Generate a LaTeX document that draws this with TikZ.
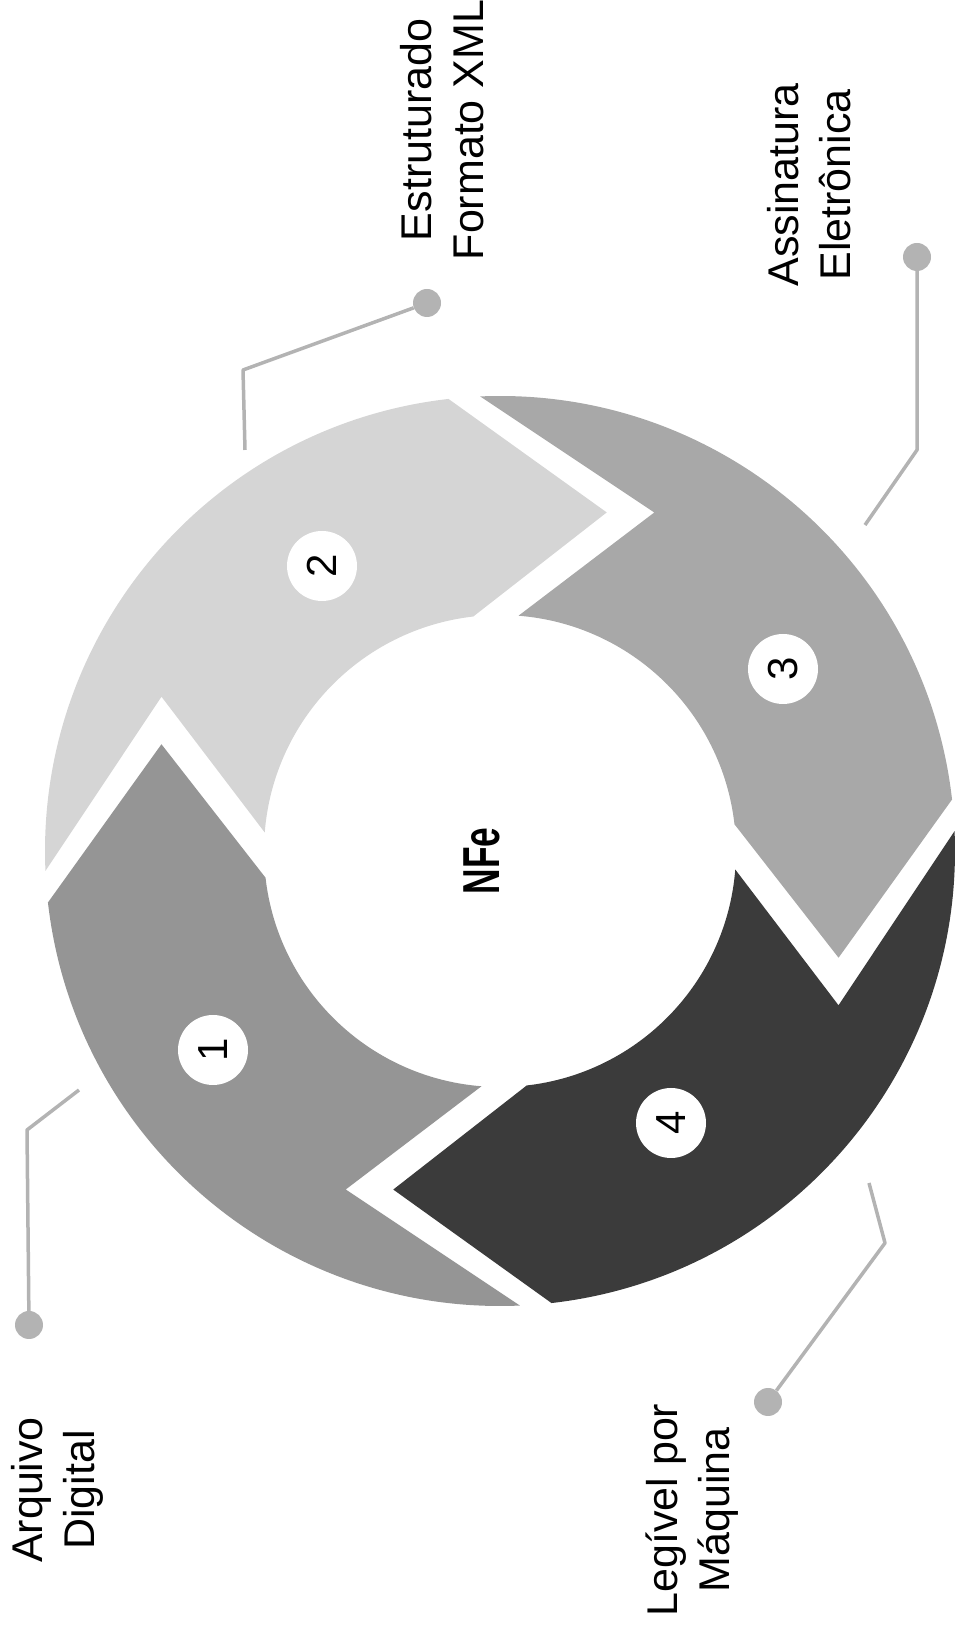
\documentclass[tikz,border=0pt]{standalone}
\usepackage{fontspec}
\setmainfont{Liberation Sans}
\newfontfamily\nfefont[FakeStretch=0.68]{Liberation Sans}
\definecolor{segA}{HTML}{959595}
\definecolor{segB}{HTML}{D5D5D5}
\definecolor{segC}{HTML}{A8A8A8}
\definecolor{segD}{HTML}{3B3B3B}
\definecolor{leadgray}{HTML}{B3B3B3}
\begin{document}
\begin{tikzpicture}[x=1pt,y=1pt,
  lead/.style={draw=leadgray, line width=3.5pt, line join=round},
  leaddot/.style={circle, fill=leadgray, minimum size=28pt, inner sep=0pt},
  numc/.style={circle, fill=white, minimum size=70pt, inner sep=0pt, font=\fontsize{42}{50}\selectfont, rotate=90},
  lbl/.style={align=center, rotate=90, font=\fontsize{43}{52}\selectfont, inner sep=0pt}
]
\useasboundingbox (0,0) rectangle (963,1628);
\begin{scope}[shift={(500,777)}]
\foreach \h/\t/\c in {162.5/252.5/segA, 72.5/162.5/segB, -17.5/72.5/segC, -107.5/-17.5/segD}{
  \fill[\c] (\h+24:455pt) -- (\h:355pt) -- (\h+24:236pt)
    arc[start angle=\h+24, end angle=\t+13, radius=236pt]
    -- (\t-7:372pt) -- (\t+20:455pt)
    arc[start angle=\t+20, end angle=\h+24, radius=455pt] -- cycle;
}
\end{scope}
% numbers
\node[numc] (n1) at (213,578) {1};
\node[numc] (n2) at (322,1062) {2};
\node[numc] (n3) at (783,959) {3};
\node[numc] (n4) at (671,505) {4};
% centre
\node[rotate=90, font=\nfefont\bfseries\fontsize{52}{60}\selectfont] (nfe) at (482,767) {NFe};
% labels
\node[lbl] (l2) at (442,1498) {Estruturado\\Formato XML};
\node[lbl] (l3) at (809,1443) {Assinatura\\Eletrônica};
\node[lbl] (l1) at (57,138) {Arquivo\\Digital};
\node[lbl] (l4) at (692,118) {Legível por\\Máquina};
% leader lines
\node[leaddot] (d2) at (427,1325) {};
\coordinate (c2a) at (243,1258);
\coordinate (c2b) at (245,1178);
\draw[lead] (d2) -- (c2a) -- (c2b);
\node[leaddot] (d3) at (917,1371) {};
\coordinate (c3a) at (917,1178);
\coordinate (c3b) at (865,1103);
\draw[lead] (d3) -- (c3a) -- (c3b);
\node[leaddot] (d1) at (29,303) {};
\coordinate (c1a) at (27,498);
\coordinate (c1b) at (79,538);
\draw[lead] (d1) -- (c1a) -- (c1b);
\node[leaddot] (d4) at (768,226) {};
\coordinate (c4a) at (885,385);
\coordinate (c4b) at (869,445);
\draw[lead] (d4) -- (c4a) -- (c4b);
\end{tikzpicture}
\end{document}
